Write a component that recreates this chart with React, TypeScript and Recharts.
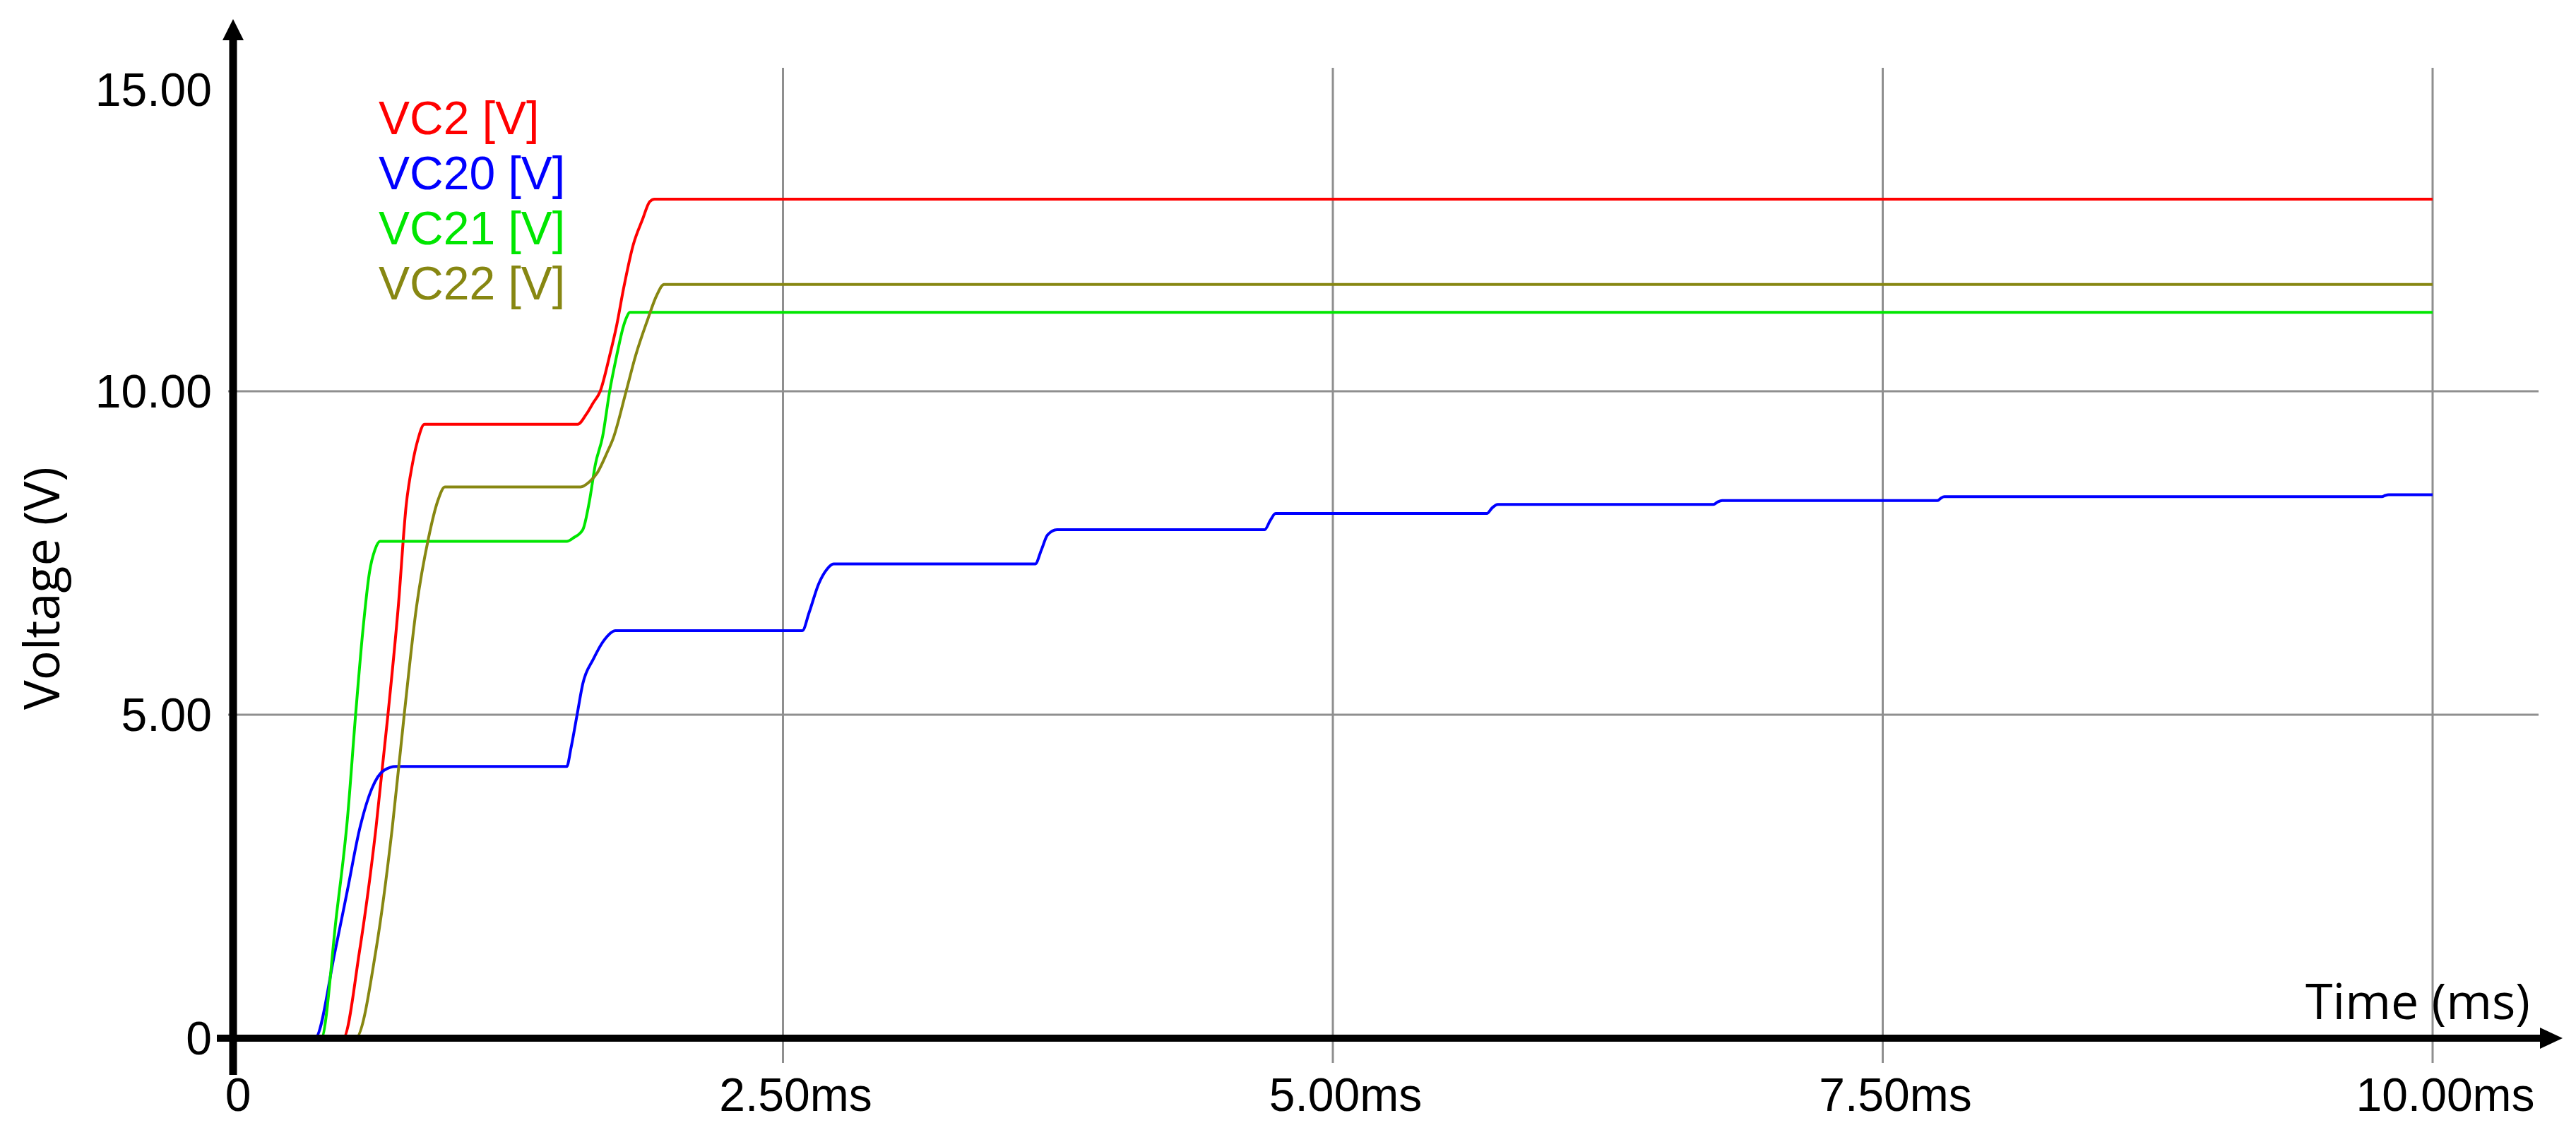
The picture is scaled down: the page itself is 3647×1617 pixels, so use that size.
import React from 'react'
import { CartesianGrid, Label, Legend, Line, LineChart, ReferenceLine, XAxis, YAxis } from 'recharts';

// time in ms, voltage in V
const vc2Time = [0, 0.5, 0.575, 0.649, 0.704, 0.751, 0.787, 0.815, 0.84, 0.87, 1.567, 1.605, 1.637, 1.669, 1.712, 1.744, 1.776, 1.819, 1.862, 1.894, 1.916, 10];
const vc2Volt = [0, 0, 1.35, 3.23, 5.0, 6.67, 8.24, 8.87, 9.25, 9.49, 9.49, 9.64, 9.82, 10.0, 10.55, 11.02, 11.6, 12.26, 12.66, 12.93, 12.97, 12.97];

const vc20Time = [0, 0.372, 0.464, 0.52, 0.575, 0.631, 0.686, 0.741, 1.517, 1.536, 1.564, 1.59, 1.638, 1.684, 1.739, 2.588, 2.619, 2.662, 2.7, 2.73, 3.647, 3.675, 3.703, 3.746, 4.69, 4.715, 4.74, 5.7, 5.725, 5.75, 6.73, 6.75, 6.77, 7.749, 7.765, 7.78, 9.77, 9.785, 9.8, 10];
const vc20Volt = [0, 0, 1.35, 2.29, 3.23, 3.86, 4.14, 4.2, 4.2, 4.48, 5.0, 5.48, 5.86, 6.14, 6.3, 6.3, 6.58, 7.02, 7.25, 7.33, 7.33, 7.55, 7.78, 7.86, 7.86, 8.0, 8.11, 8.11, 8.2, 8.25, 8.25, 8.29, 8.31, 8.31, 8.35, 8.37, 8.37, 8.39, 8.4, 8.4];

const vc21Time = [0, 0.4, 0.47, 0.52, 0.557, 0.59, 0.62, 0.645, 0.668, 1.517, 1.55, 1.59, 1.62, 1.647, 1.68, 1.712, 1.744, 1.776, 1.79, 1.803, 10];
const vc21Volt = [0, 0, 1.9, 3.4, 5.0, 6.3, 7.2, 7.55, 7.68, 7.68, 7.74, 7.86, 8.3, 8.87, 9.3, 10.0, 10.55, 11.02, 11.15, 11.22, 11.22];

const vc22Time = [0, 0.557, 0.649, 0.723, 0.778, 0.834, 0.889, 0.93, 0.963, 1.58, 1.62, 1.656, 1.7, 1.728, 1.787, 1.83, 1.884, 1.927, 1.959, 10];
const vc22Volt = [0, 0, 1.35, 3.23, 5.0, 6.67, 7.74, 8.3, 8.52, 8.52, 8.6, 8.74, 9.05, 9.27, 10.0, 10.55, 11.1, 11.49, 11.65, 11.65];

const timeTicks = [0, 2.5, 5, 7.5, 10];
const voltTicks = [0, 5, 10, 15];

const toPoints = (ts: number[], vs: number[]) => ts.map((t, i) => ({ t, v: vs[i] }));

const series = [
    { name: 'VC2 [V]', color: '#ff0000', data: toPoints(vc2Time, vc2Volt) },
    { name: 'VC20 [V]', color: '#0000ff', data: toPoints(vc20Time, vc20Volt) },
    { name: 'VC21 [V]', color: '#00e600', data: toPoints(vc21Time, vc21Volt) },
    { name: 'VC22 [V]', color: '#878712', data: toPoints(vc22Time, vc22Volt) },
];

const tickFont = '"Liberation Sans", Arial, sans-serif';
const titleFont = '"Open Sans", "Noto Sans", sans-serif';
const gridColor = '#8f8f8f';

const XTick = (props: any) => {
    const { x, y, payload } = props;
    const v = payload.value;
    const text = v === 0 ? '0' : `${v.toFixed(2)}ms`;
    return (
        <text x={x + (v === 0 ? 7 : 18)} y={y + 80} dy="0.355em" textAnchor="middle"
            fontFamily={tickFont} fontSize={66} fill="#000">{text}</text>
    );
};

const YTick = (props: any) => {
    const { x, y, payload } = props;
    const v = payload.value;
    const text = v === 0 ? '0' : v.toFixed(2);
    return (
        <text x={x} y={y + (v === 15 ? 31 : 0)} dy="0.355em" textAnchor="end"
            fontFamily={tickFont} fontSize={66} fill="#000">{text}</text>
    );
};

const hGrid = (p: any) => (
    <line key={p.key} x1={p.x1 - 7} x2={p.x2 + 150} y1={p.y1} y2={p.y2} stroke={gridColor} strokeWidth={3} />
);

const vGrid = (p: any) => (
    <line key={p.key} x1={p.x1} x2={p.x2} y1={Math.min(p.y1, p.y2)} y2={Math.max(p.y1, p.y2) + 35} stroke={gridColor} strokeWidth={3} />
);

const xAxisShape = (p: any) => {
    const left = Math.min(p.x1, p.x2);
    const right = Math.max(p.x1, p.x2);
    const y = p.y1;
    return (
        <g>
            <line x1={left - 23} x2={right + 154} y1={y} y2={y} stroke="#000" strokeWidth={10} />
            <polygon points={`${right + 152},${y - 15} ${right + 152},${y + 15} ${right + 184},${y}`} fill="#000" />
        </g>
    );
};

const yAxisShape = (p: any) => {
    const top = Math.min(p.y1, p.y2);
    const bottom = Math.max(p.y1, p.y2);
    const x = p.x1;
    return (
        <g>
            <line x1={x} x2={x} y1={bottom + 52} y2={top - 41} stroke="#000" strokeWidth={11} />
            <polygon points={`${x - 15},${top - 39} ${x + 15},${top - 39} ${x},${top - 69}`} fill="#000" />
        </g>
    );
};

const LegendText = (props: any) => (
    <div style={{ fontFamily: tickFont, fontSize: 66 }}>
        {(props.payload || []).map((e: any) => (
            <div key={e.value} style={{ color: e.color, height: 78, lineHeight: '78px', whiteSpace: 'nowrap' }}>{e.value}</div>
        ))}
    </div>
);

const App = () => {
    return (
        <div style={{ position: 'absolute', left: 0, top: 0, width: 3647, height: 1617, background: '#fff' }}>
            <LineChart
                width={3647}
                height={1617}
                margin={{ top: 96, right: 203, bottom: 0, left: 0 }}
            >
                <CartesianGrid
                    horizontal={hGrid}
                    vertical={vGrid}
                    horizontalValues={[5, 10]}
                    verticalValues={[2.5, 5, 7.5, 10]}
                />
                <XAxis
                    dataKey="t"
                    type="number"
                    domain={[0, 10]}
                    ticks={timeTicks}
                    height={147}
                    axisLine={false}
                    tickLine={false}
                    tickSize={0}
                    tickMargin={0}
                    tick={<XTick />}
                    interval={0}
                >
                    <Label content={() => (
                        <text x={3582} y={1443} textAnchor="end" fontFamily={titleFont} fontSize={70} fill="#000">Time (ms)</text>
                    )} />
                </XAxis>
                <YAxis
                    type="number"
                    domain={[0, 15]}
                    ticks={voltTicks}
                    width={330}
                    axisLine={false}
                    tickLine={false}
                    tickSize={0}
                    tickMargin={30}
                    tick={<YTick />}
                    interval={0}
                >
                    <Label content={() => (
                        <text x={84} y={833} transform="rotate(-90 84 833)" textAnchor="middle" fontFamily={titleFont} fontSize={70} fill="#000">Voltage (V)</text>
                    )} />
                </YAxis>
                <Legend
                    layout="vertical"
                    align="center"
                    verticalAlign="middle"
                    content={<LegendText />}
                    wrapperStyle={{ left: 536, top: 128, width: 'auto', height: 'auto' }}
                />
                {series.map((s) => (
                    <Line
                        key={s.name}
                        data={s.data}
                        dataKey="v"
                        name={s.name}
                        type="monotone"
                        stroke={s.color}
                        strokeWidth={4}
                        dot={false}
                        activeDot={false}
                        isAnimationActive={false}
                    />
                ))}
                <ReferenceLine y={0} ifOverflow="visible" shape={xAxisShape} />
                <ReferenceLine x={0} ifOverflow="visible" shape={yAxisShape} />
            </LineChart>
        </div>
    );
}
export default App;
